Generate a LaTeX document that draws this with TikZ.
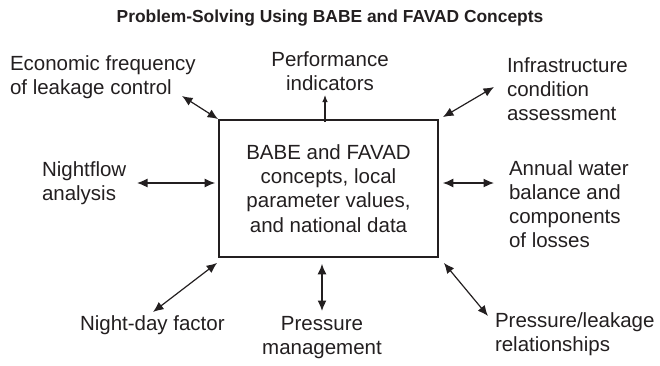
\documentclass[tikz,border=0pt]{standalone}
\usepackage{fontspec}
\setmainfont{Liberation Sans}
\usetikzlibrary{arrows.meta,calc}
\definecolor{ink}{HTML}{231F20}
\tikzset{
  lbl/.style={inner sep=0pt, outer sep=0pt, text=ink,
    font=\fontsize{20.5pt}{24pt}\selectfont},
  corebox/.style={draw=ink, line width=1.8pt, minimum width=219pt,
    minimum height=137pt, inner sep=0pt, align=center, text=ink,
    font=\fontsize{20.5pt}{24.3pt}\selectfont},
  link/.style={draw=ink, line width=1.2pt,
    {Latex[length=10.5pt,width=9pt]}-{Latex[length=10.5pt,width=9pt]}},
  onelink/.style={draw=ink, line width=1.1pt, -{Latex[length=7pt,width=5.5pt]}}
}
\begin{document}
\begin{tikzpicture}[x=1pt,y=-1pt]
\useasboundingbox (0,0) rectangle (660,365);

% heading
\node[lbl, font=\bfseries\fontsize{17.4pt}{20pt}\selectfont] (title) at (330,18)
  {Problem-Solving Using BABE and FAVAD Concepts};

% central box
\node[corebox] (core) at (328.5,188.5)
  {BABE and FAVAD\\concepts, local\\parameter values,\\and national data};

% surrounding topics
\node[lbl, align=left, anchor=west] (econ) at (10,77)
  {Economic frequency\\of leakage control};
\node[lbl, align=center] (perf) at (330,71)
  {Performance\\indicators};
\node[lbl, align=left, anchor=west] (infra) at (507,89)
  {Infrastructure\\condition\\assessment};
\node[lbl, align=left, anchor=west] (night) at (42,183)
  {Nightflow\\analysis};
\node[lbl, align=left, anchor=west] (annual) at (509,204)
  {Annual water\\balance and\\components\\of losses};
\node[lbl, anchor=west] (nday) at (80,325)
  {Night-day factor};
\node[lbl, align=center] (press) at (322,338)
  {Pressure\\management};
\node[lbl, align=left, anchor=west] (plr) at (495,334)
  {Pressure/leakage\\relationships};

% connector ends beside the labels
\coordinate (econEnd) at (182,96);
\coordinate (perfEnd) at (325,95);
\coordinate (infraEnd) at (494,87);
\coordinate (nightEnd) at (137,183);
\coordinate (annualEnd) at (494,183);
\coordinate (ndayEnd) at (153,312);
\coordinate (pressEnd) at (322,311);
\coordinate (plrEnd) at (488,316);

% connectors
\draw[link] (econEnd) -- (core.north west);
\draw[onelink] ($(core.north)+(-3.5,3)$) -- (perfEnd);
\draw[link] ($(core.north east)+(4,-2)$) -- (infraEnd);
\draw[link] (nightEnd) -- ($(core.west)+(-3,-5.5)$);
\draw[link] ($(core.east)+(4,-5.5)$) -- (annualEnd);
\draw[link] ($(core.south west)+(-1,5)$) -- (ndayEnd);
\draw[link] ($(core.south)+(-6.5,6)$) -- (pressEnd);
\draw[link] ($(core.south east)+(5,5)$) -- (plrEnd);
\end{tikzpicture}
\end{document}
